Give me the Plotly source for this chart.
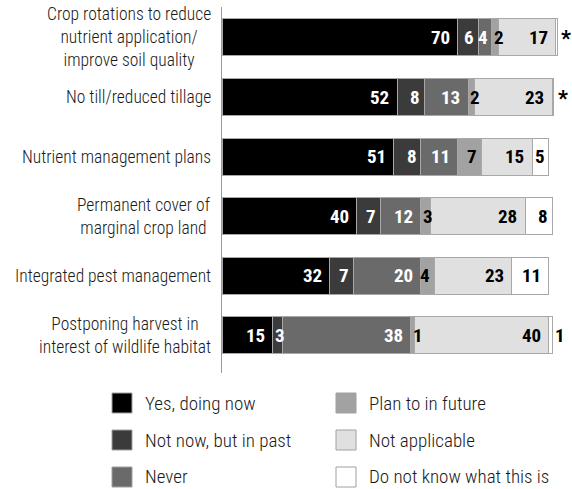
import plotly.graph_objects as go

# Survey practices (top to bottom) and response shares in percent
practices = [
    "Crop rotations to reduce<br>nutrient application/<br>improve soil quality",
    "No till/reduced tillage",
    "Nutrient management plans",
    "Permanent cover of<br>marginal crop land",
    "Integrated pest management",
    "Postponing harvest in<br>interest of wildlife habitat",
]
yes_now = [70, 52, 51, 40, 32, 15]
past = [6, 8, 8, 7, 7, 3]
never = [4, 13, 11, 12, 20, 38]
plan_future = [2, 2, 7, 3, 4, 1]
not_applicable = [17, 23, 15, 28, 23, 40]
dont_know = [0.5, 0.5, 5, 8, 11, 1]
# rows where the last share is below one percent and is flagged with a note
dont_know_note = ["*", "*", "", "", "", ""]

series_names = [
    "Yes, doing now",
    "Not now, but in past",
    "Never",
    "Plan to in future",
    "Not applicable",
    "Do not know what this is",
]
series_values = [yes_now, past, never, plan_future, not_applicable, dont_know]
fills = ["#000000", "#3b3b3b", "#6a6a6a", "#a2a2a2", "#e0e0e0", "#ffffff"]
label_colors = ["#ffffff", "#ffffff", "#ffffff", "#000000", "#000000", "#000000"]

W, H = 572, 489
ML, MR, MT, MB = 222, 13, 7, 116
PW, PH = W - ML - MR, H - MT - MB

NARROW = "Roboto Condensed, Liberation Sans Narrow, Arial Narrow, sans-serif"
TEXT = "#1a1a1a"

fig = go.Figure()
for name, vals, fill in zip(series_names, series_values, fills):
    fig.add_trace(go.Bar(
        y=practices, x=vals, name=name, orientation="h",
        marker=dict(color=fill, line=dict(color="#a8a8a8", width=1)),
        width=0.62, showlegend=False, hoverinfo="x+name",
    ))

PX_PER_UNIT = PW / 100.0
DIGIT_W = 11.0

annotations = []
# value labels at the end of each segment; narrow segments get the label
# starting at the segment's left edge instead
for r, cat in enumerate(practices):
    start = 0.0
    n = len(series_values)
    for k, vals in enumerate(series_values):
        v = vals[r]
        end = start + v
        label = str(v) if not (k == n - 1 and dont_know_note[r]) else ""
        if label:
            fits = v * PX_PER_UNIT >= len(label) * DIGIT_W
            if fits:
                x, anchor, shift = end, "right", (-2 if len(label) == 1 else -6)
            elif k == n - 1:
                x, anchor, shift = end, "left", 1
            else:
                x, anchor, shift = start, "left", 0
            annotations.append(dict(
                x=x, y=cat, xref="x", yref="y", text=label, showarrow=False,
                xanchor=anchor, xshift=shift, yanchor="middle",
                font=dict(family=NARROW, size=19, color=label_colors[k], weight="bold"),
            ))
        start = end
    if dont_know_note[r]:
        annotations.append(dict(
            x=start, y=cat, xref="x", yref="y", text=dont_know_note[r],
            showarrow=False, xanchor="left", xshift=2, yanchor="middle", yshift=-1,
            font=dict(family=NARROW, size=22, color="#000000", weight="bold"),
        ))

# category labels, lines centred within a right-aligned block
for cat in practices:
    annotations.append(dict(
        x=0, y=cat, xref="paper", yref="y", text=cat, showarrow=False,
        xanchor="right", yanchor="middle", align="center", xshift=-9,
        font=dict(family=NARROW, size=17.5, color=TEXT, weight=300),
    ))

# legend drawn as two columns of swatches
def px_x(px):
    return (px - ML) / PW

def px_y(py):
    return (H - MB - py) / PH

shapes = []
col_x = [112, 336]
row_y = [403, 440, 477]
SW = 20
for i, (name, fill) in enumerate(zip(series_names, fills)):
    cx, cy = col_x[i // 3], row_y[i % 3]
    shapes.append(dict(
        type="rect", xref="paper", yref="paper",
        x0=px_x(cx), x1=px_x(cx + SW), y0=px_y(cy + SW / 2), y1=px_y(cy - SW / 2),
        fillcolor=fill, line=dict(color="#a0a0a0", width=1),
    ))
    annotations.append(dict(
        x=px_x(cx + SW + 11), y=px_y(cy), xref="paper", yref="paper", text=name,
        showarrow=False, xanchor="left", yanchor="middle",
        font=dict(family=NARROW, size=19, color=TEXT, weight=300),
    ))

fig.update_layout(
    width=W, height=H,
    margin=dict(l=ML, r=MR, t=MT, b=MB),
    barmode="stack",
    plot_bgcolor="#ffffff", paper_bgcolor="#ffffff",
    xaxis=dict(range=[0, 100], visible=False, fixedrange=True),
    yaxis=dict(
        categoryorder="array", categoryarray=practices,
        range=[5.63, -0.51], showticklabels=False, ticks="",
        showgrid=False, zeroline=False,
        showline=True, linecolor="#9a9a9a", linewidth=1,
    ),
    annotations=annotations,
    shapes=shapes,
    showlegend=False,
)

fig.write_html("out.html")
